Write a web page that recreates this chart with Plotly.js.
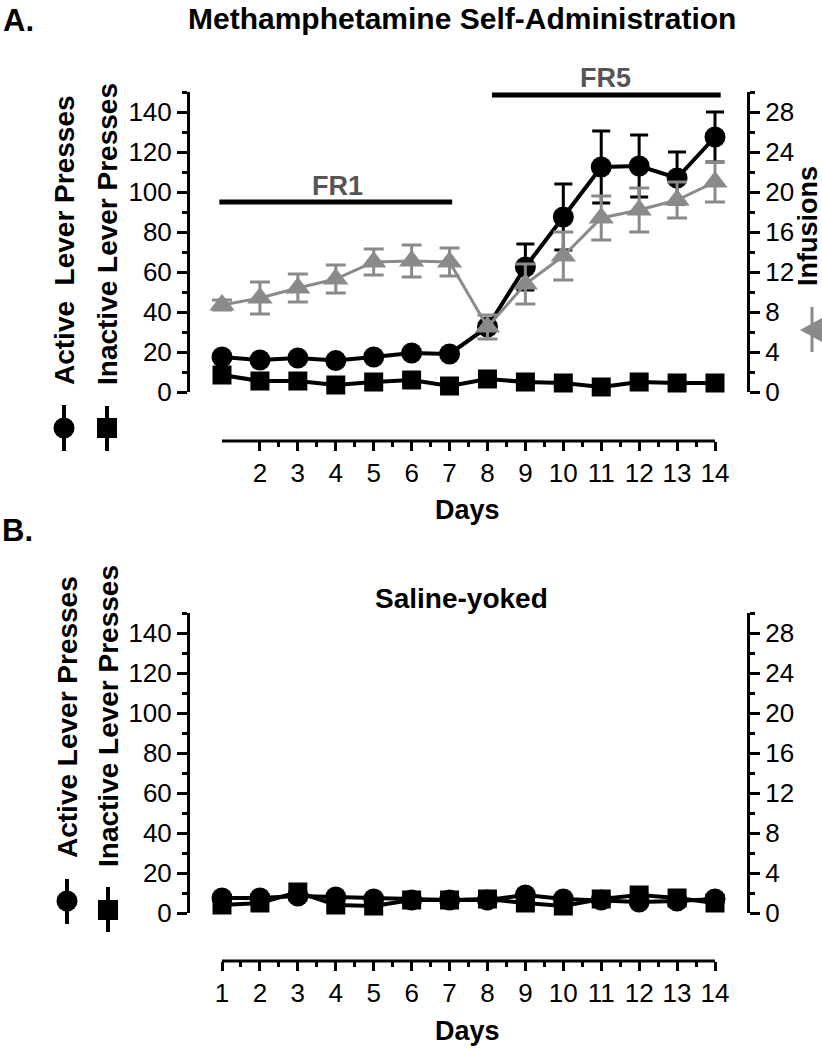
<!DOCTYPE html>
<html>
<head>
<meta charset="utf-8">
<script src="https://cdn.plot.ly/plotly-3.0.1.min.js"></script>
<style>html,body{margin:0;padding:0;background:#fff;}#chart{width:822px;height:1050px;}</style>
</head>
<body>
<div id="chart"></div>
<script>
// ---- data ----
const days = [1,2,3,4,5,6,7,8,9,10,11,12,13,14];
const topDayTicks = [2,3,4,5,6,7,8,9,10,11,12,13,14];
const bottomDayTicks = [1,2,3,4,5,6,7,8,9,10,11,12,13,14];

// Methamphetamine self-administration (panel A)
const methActive      = [17.5,16,17,15.7,17.5,19.5,19,32.5,62.5,87.5,112.5,113,107,127.5];
const methActiveErr   = [1.5,1.5,1.5,1.5,1.5,1.5,1.5,2,11.5,16.5,18,15.5,13,12.5];
const methInactive    = [8.5,5.5,5.5,3.5,5,6,3,6.5,5,4.5,2.5,5,4.5,4.5];
const methInactiveErr = [1,1,1,1,1,1,1,1,1,1,1,1,1,1];
const methInfusions   = [8.7,9.4,10.4,11.3,13,13.1,13,6.5,10.8,13.6,17.4,18.2,19.2,21];
const methInfusionsErr= [0.5,1.6,1.4,1.4,1.3,1.6,1.4,1.2,2.0,2.4,2.2,2.2,1.8,2.0];

// Saline-yoked (panel B)
const salActive      = [7.5,7.5,8.5,8,7,6.5,6.5,6.5,9,7,6.5,5.5,6,7];
const salActiveErr   = [1,1,1,1,1,1,1,1,1,1,1,1,1,1];
const salInactive    = [4,5,10.5,4,3.5,6.5,6.5,7,5,3.5,7,9,7.5,5];
const salInactiveErr = [1,1,1,1,1,1,1,1,1,1,1,1,1,1];

// phase bars (days)
const fr1Span = [0.93, 7.07];
const fr5Span = [8.12, 14.15];
const fr1Level = 95;
const fr5Level = 148.5;

// ---- helpers (paper = full figure, margins 0) ----
const W = 822, H = 1050;
const px = v => v / W;
const py = v => 1 - v / H;
const FONT = 'Liberation Sans, Arial, Helvetica, sans-serif';
const GRAY = '#8a8a8a';
const minorTop = topDayTicks.slice(0, -1).map(d => d + 0.5);
const minorBot = bottomDayTicks.slice(0, -1).map(d => d + 0.5);

function eb(arr, color, w) {
  return {type: 'data', array: arr, symmetric: true, thickness: 3, width: w, color: color};
}

const traces = [
  {x: days, y: methInactive, xaxis: 'x', yaxis: 'y', mode: 'lines+markers', cliponaxis: false,
   line: {color: '#000', width: 4}, marker: {symbol: 'square', size: 19, color: '#000'},
   error_y: eb(methInactiveErr, '#000', 9)},
  {x: days, y: methActive, xaxis: 'x', yaxis: 'y', mode: 'lines+markers', cliponaxis: false,
   line: {color: '#000', width: 4}, marker: {symbol: 'circle', size: 21, color: '#000'},
   error_y: eb(methActiveErr, '#000', 9)},
  {x: days, y: methInfusions, xaxis: 'x', yaxis: 'y2', mode: 'lines+markers', cliponaxis: false,
   line: {color: GRAY, width: 3}, marker: {symbol: 'triangle-up', size: 22, color: GRAY},
   error_y: eb(methInfusionsErr, GRAY, 10)},
  {x: days, y: salActive, xaxis: 'x3', yaxis: 'y3', mode: 'lines+markers', cliponaxis: false,
   line: {color: '#000', width: 4}, marker: {symbol: 'circle', size: 21, color: '#000'},
   error_y: eb(salActiveErr, '#000', 9)},
  {x: days, y: salInactive, xaxis: 'x3', yaxis: 'y3', mode: 'lines+markers', cliponaxis: false,
   line: {color: '#000', width: 4}, marker: {symbol: 'square', size: 19, color: '#000'},
   error_y: eb(salInactiveErr, '#000', 9)},
  {x: [], y: [], xaxis: 'x3', yaxis: 'y4', mode: 'markers', hoverinfo: 'skip'}
];

const xRange = [1 - 32/37.92, 14 + 32/37.92];
const tickFont = {family: FONT, size: 26, color: '#000'};

function xAxis(domain, pos, tickvals, minorvals) {
  return {domain: domain, range: xRange, anchor: 'free', position: pos,
    showline: false, zeroline: false, showgrid: false,
    tickmode: 'array', tickvals: tickvals, ticktext: tickvals.map(String),
    ticks: 'outside', ticklen: 9, tickwidth: 3, tickcolor: '#000', tickfont: tickFont,
    minor: {tickmode: 'array', tickvals: minorvals, ticks: 'outside', ticklen: 5, tickwidth: 3, tickcolor: '#000'},
    fixedrange: true};
}
function yLeft(domain, anchor) {
  return {domain: domain, range: [0, 150], anchor: anchor, side: 'left',
    showline: true, linewidth: 3, linecolor: '#000', zeroline: false, showgrid: false,
    dtick: 20, tick0: 0, ticks: 'outside', ticklen: 10, tickwidth: 3, tickcolor: '#000', tickfont: tickFont,
    minor: {dtick: 10, ticks: 'outside', ticklen: 5, tickwidth: 3, tickcolor: '#000'},
    fixedrange: true};
}
function yRight(domain, anchor, over) {
  return {domain: domain, range: [0, 30], anchor: anchor, overlaying: over, side: 'right',
    showline: true, linewidth: 3, linecolor: '#000', zeroline: false, showgrid: false,
    dtick: 4, tick0: 0, ticks: 'outside', ticklen: 10, tickwidth: 3, tickcolor: '#000', tickfont: tickFont,
    minor: {dtick: 2, ticks: 'outside', ticklen: 5, tickwidth: 3, tickcolor: '#000'},
    fixedrange: true};
}

const xDom = [px(190), px(747)];
const topDom = [py(392), py(92)];
const botDom = [py(913), py(613)];

function ann(text, x, y, size, opts) {
  return Object.assign({text: text, xref: 'paper', yref: 'paper', x: x, y: y,
    showarrow: false, xanchor: 'center', yanchor: 'middle',
    font: {family: FONT, size: size, color: '#000'}}, opts || {});
}

const annotations = [
  ann('<b>A.</b>', px(1), py(20), 31, {xanchor: 'left'}),
  ann('<b>Methamphetamine Self-Administration</b>', px(462), py(19), 30),
  ann('<b>FR1</b>', 4.05, 103, 27, {xref: 'x', yref: 'y', font: {family: FONT, size: 27, color: '#555'}}),
  ann('<b>FR5</b>', 11.12, py(78), 27, {xref: 'x', font: {family: FONT, size: 27, color: '#555'}}),
  ann('<b>Days</b>', px(467), py(510), 27),
  ann('<b>Active\u00A0 Lever Presses</b>', px(65), py(240), 28, {textangle: -90}),
  ann('<b>Inactive Lever Presses</b>', px(107), py(234), 28, {textangle: -90}),
  ann('<b>Infusions</b>', px(808), py(226), 27, {textangle: -90}),
  ann('<b>B.</b>', px(0), py(530), 31, {xanchor: 'left'}),
  ann('<b>Saline-yoked</b>', px(461), py(598), 28),
  ann('<b>Days</b>', px(467), py(1031), 27),
  ann('<b>Active Lever Presses</b>', px(67), py(717), 28, {textangle: -90}),
  ann('<b>Inactive Lever Presses</b>', px(108), py(716), 28, {textangle: -90})
];

function pline(x0, y0, x1, y1, color, w) {
  return {type: 'line', xref: 'paper', yref: 'paper', x0: px(x0), y0: py(y0), x1: px(x1), y1: py(y1),
    line: {color: color, width: w}};
}
function pcircle(cx, cy, r) {
  return {type: 'circle', xref: 'paper', yref: 'paper', x0: px(cx - r), x1: px(cx + r), y0: py(cy + r), y1: py(cy - r),
    fillcolor: '#000', line: {width: 0}};
}
function prect(cx, cy, h) {
  return {type: 'rect', xref: 'paper', yref: 'paper', x0: px(cx - h), x1: px(cx + h), y0: py(cy + h), y1: py(cy - h),
    fillcolor: '#000', line: {width: 0}};
}

const shapes = [
  // day axis lines (span day 1 to day 14)
  {type: 'line', xref: 'x', yref: 'paper', x0: 1, x1: 14, y0: py(441), y1: py(441), line: {color: '#000', width: 3}},
  {type: 'line', xref: 'x3', yref: 'paper', x0: 1, x1: 14, y0: py(961), y1: py(961), line: {color: '#000', width: 3}},
  // phase bars
  {type: 'line', xref: 'x', yref: 'y', x0: fr1Span[0], x1: fr1Span[1], y0: fr1Level, y1: fr1Level, line: {color: '#000', width: 5}},
  {type: 'line', xref: 'x', yref: 'y', x0: fr5Span[0], x1: fr5Span[1], y0: fr5Level, y1: fr5Level, line: {color: '#000', width: 5}},
  // legend keys panel A
  pline(64, 405, 64, 451, '#000', 4), pcircle(64, 428, 10.5),
  pline(107, 406, 107, 451, '#000', 4), prect(107, 428, 10),
  // infusions key
  pline(812, 307, 812, 352, GRAY, 3),
  {type: 'path', xref: 'paper', yref: 'paper',
   path: 'M ' + px(800) + ' ' + py(330) + ' L ' + px(824) + ' ' + py(317) + ' L ' + px(824) + ' ' + py(343) + ' Z',
   fillcolor: GRAY, line: {width: 0}},
  // legend keys panel B
  pline(67, 879, 67, 924, '#000', 4), pcircle(67, 901, 10.5),
  pline(108, 887, 108, 932, '#000', 4), prect(108, 910, 10)
];

const layout = {
  width: W, height: H,
  margin: {l: 0, r: 0, t: 0, b: 0, pad: 0},
  paper_bgcolor: '#fff', plot_bgcolor: 'rgba(0,0,0,0)',
  showlegend: false,
  font: {family: FONT, color: '#000'},
  xaxis: xAxis(xDom, py(441), topDayTicks, minorTop),
  yaxis: yLeft(topDom, 'x'),
  yaxis2: yRight(topDom, 'x', 'y'),
  xaxis3: xAxis(xDom, py(961), bottomDayTicks, minorBot),
  yaxis3: yLeft(botDom, 'x3'),
  yaxis4: yRight(botDom, 'x3', 'y3'),
  annotations: annotations,
  shapes: shapes
};

Plotly.newPlot('chart', traces, layout, {staticPlot: true, displayModeBar: false});
</script>
</body>
</html>
